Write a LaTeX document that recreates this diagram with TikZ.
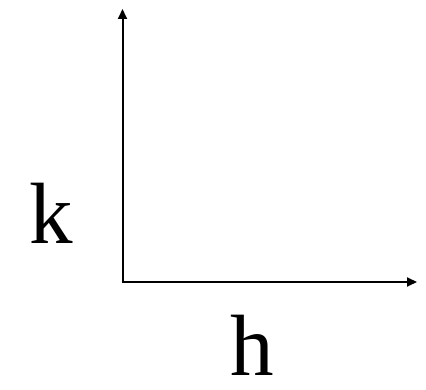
\documentclass[tikz,border=0pt]{standalone}
\usepackage{fontspec}
\setmainfont{Liberation Serif}
\usetikzlibrary{arrows.meta}
\begin{document}
\begin{tikzpicture}[x=1pt,y=1pt,
  axis/.style={line width=2pt,-{Triangle[length=10pt,width=9pt]}},
  lbl/.style={inner sep=0pt,anchor=base,font=\fontsize{87}{87}\selectfont}]
\useasboundingbox (0,0) rectangle (426,389);
\coordinate (o) at (122.5,107);
\coordinate (ytop) at (122.5,380);
\coordinate (xend) at (417,107);
\draw[axis] ([yshift=-1pt]o) -- (ytop);
\draw[axis] ([xshift=-1pt]o) -- (xend);
\node[lbl] (k) at (51.5,146) {k};
\node[lbl] (h) at (252.5,14) {h};
\end{tikzpicture}
\end{document}
